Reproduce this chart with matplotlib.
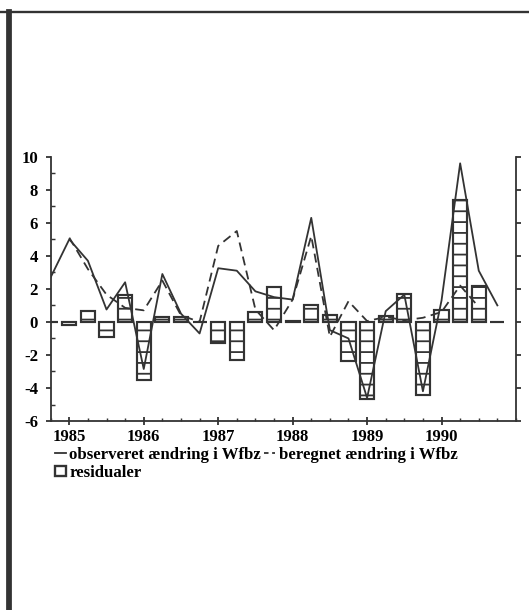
import matplotlib
matplotlib.use("Agg")
import matplotlib.pyplot as plt
from matplotlib.lines import Line2D
from matplotlib.patches import Patch
import numpy as np

plt.rcParams['font.family'] = ['Liberation Serif', 'DejaVu Serif']
plt.rcParams['font.weight'] = 'bold'
plt.rcParams['axes.unicode_minus'] = False
plt.rcParams['hatch.linewidth'] = 1.0
plt.rcParams['hatch.color'] = '#3a3a3a'

# kvartalsdata 1984K4 - 1990K4
start = 1984.75
observeret = [2.7, 5.0, 3.7, 0.75, 2.4, -2.85, 2.9, 0.5, -0.7, 3.25, 3.1,
              1.85, 1.5, 1.35, 6.3, -0.5, -1.0, -4.6, 0.65, 1.65, -4.2,
              1.3, 9.6, 3.1, 1.0]
beregnet = [np.nan, 5.1, 3.2, 1.65, 0.85, 0.7, 2.5, 0.4, 0.0, 4.6, 5.5,
            0.75, -0.5, 1.35, 5.2, -0.9, 1.25, 0.05, 0.3, 0.1, 0.25,
            0.6, 2.2, 0.9, np.nan]
residualer = [0.0, -0.2, 0.65, -0.9, 1.65, -3.5, 0.3, 0.3, 0.0, -1.3, -2.3,
              0.6, 2.1, 0.05, 1.0, 0.4, -2.35, -4.65, 0.35, 1.7, -4.45,
              0.75, 7.4, 2.2, 0.0]
aar = [1985, 1986, 1987, 1988, 1989, 1990]

t = start + 0.25 * np.arange(len(observeret))
dark = '#333333'
fs = 9.3

fig = plt.figure(figsize=(529 / 130, 610 / 130), dpi=130)
ax = fig.add_axes([0.0958, 0.3098, 0.8796, 0.4333])

ax.bar(t, residualer, width=0.19, color='white', edgecolor=dark,
       linewidth=1.2, hatch='--', zorder=2)
ax.plot(t, observeret, color=dark, lw=1.0, zorder=3)
ax.plot(t, beregnet, color=dark, lw=1.0, ls=(0, (5, 3)), zorder=3)

ax.set_xlim(1984.75, 1991.0)
ax.set_ylim(-6, 10)
ax.set_xticks(aar)
ax.set_xticks(np.arange(1984.75, 1991.01, 0.25), minor=True)
ax.set_yticks(range(-6, 11, 2))
ax.set_yticks(range(-5, 10, 2), minor=True)

for s in ['left', 'right', 'bottom']:
    ax.spines[s].set_color(dark)
    ax.spines[s].set_linewidth(1.0)
ax.spines['top'].set_visible(False)

ax.tick_params(axis='y', which='major', direction='out', length=3,
               width=1.0, color=dark, right=True, labelright=False,
               labelsize=fs, pad=4)
ax.tick_params(axis='y', which='minor', direction='in', length=2,
               width=0.8, color=dark, right=False)
ax.tick_params(axis='x', which='major', direction='inout', length=4,
               width=1.0, color=dark, labelsize=fs, pad=2.5)
ax.tick_params(axis='x', which='minor', direction='in', length=1.5,
               width=0.8, color=dark)

handles = [Line2D([], [], color=dark, lw=1.0),
           Patch(facecolor='white', edgecolor=dark, linewidth=1.3),
           Line2D([], [], color=dark, lw=1.0, ls=(0, (2.5, 2)))]
labels = ['observeret ændring i Wfbz', 'residualer',
          'beregnet ændring i Wfbz']
fig.legend(handles, labels, ncol=2, loc='upper left',
           bbox_to_anchor=(0.104, 0.268), frameon=False, fontsize=fs,
           handlelength=0.65, handletextpad=0.2, columnspacing=0.2,
           labelspacing=0.15, borderaxespad=0, borderpad=0,
           handleheight=0.5)

# ramme fra den scannede side
fig.add_artist(Line2D([0, 1], [1 - 12 / 610, 1 - 12 / 610],
                      transform=fig.transFigure, color=dark, lw=1.3))
fig.add_artist(Line2D([8.5 / 529, 8.5 / 529], [0, 1 - 12 / 610],
                      transform=fig.transFigure, color=dark, lw=3.2))

fig.savefig("out.png", dpi=130, facecolor='white')
